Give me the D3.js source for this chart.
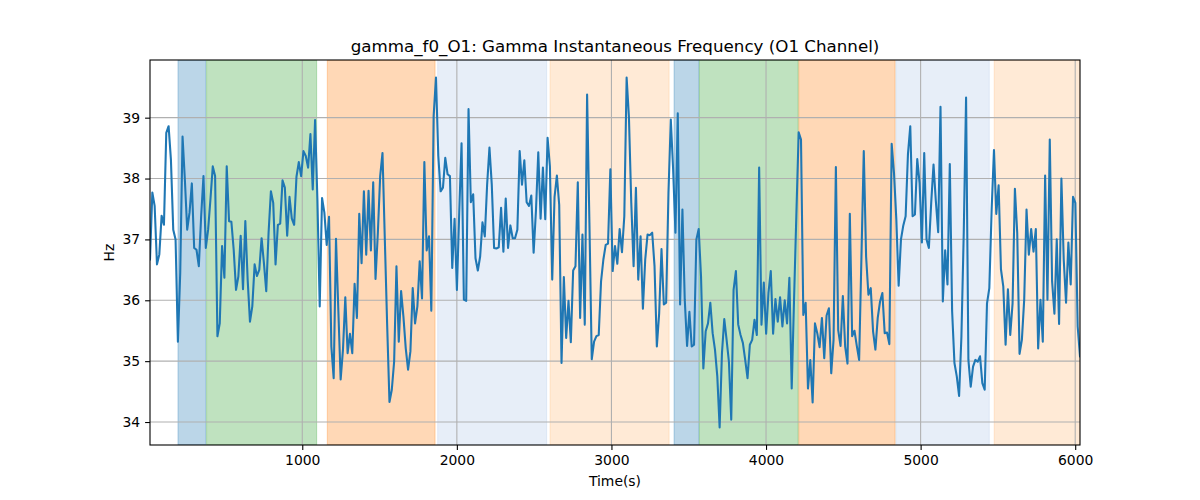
<!DOCTYPE html>
<html>
<head>
<meta charset="utf-8">
<script src="https://cdn.jsdelivr.net/npm/d3@7"></script>
<style>
  body { margin: 0; background: #fff; }
  svg text { font-family: "DejaVu Sans", sans-serif; fill: #000; }
</style>
</head>
<body>
<div id="chart"></div>
<script>
'use strict';

// gamma instantaneous frequency (Hz), one sample every ~15 s
var hz = [
  36.67, 37.77, 37.55, 36.59, 36.75, 37.39, 37.24, 38.75, 38.86, 38.31,
  37.16, 37.00, 35.32, 36.45, 38.69, 37.98, 37.16, 37.44, 37.92, 36.86,
  36.83, 36.56, 37.38, 38.04, 36.86, 37.16, 37.66, 38.20, 38.04, 35.41,
  35.62, 36.89, 36.37, 38.20, 37.30, 37.29, 36.83, 36.17, 36.39, 37.06,
  36.18, 37.30, 36.34, 35.65, 35.90, 36.59, 36.40, 36.50, 37.02, 36.61,
  36.15,
  37.11, 37.79, 37.60, 36.59, 37.24, 37.26, 37.97, 37.85, 37.06, 37.70,
  37.34, 37.24, 38.03, 38.27, 38.04, 38.45, 38.37, 38.18, 38.73, 37.82,
  38.96, 37.66, 35.90, 37.68, 37.44, 36.91, 37.37, 35.24, 34.72, 37.01,
  35.84, 34.70, 35.19, 36.05, 35.13, 35.45, 35.13, 36.27, 35.71, 37.42,
  36.61, 37.79, 36.75, 37.80, 36.82, 37.94, 36.35, 37.11, 38.04, 38.42,
  37.00, 35.60, 34.33, 34.53, 34.99, 36.56, 35.32, 36.15, 35.73, 35.21,
  34.86, 35.16, 36.20, 35.62, 35.90, 36.64, 36.03, 38.27, 36.82, 37.05,
  35.83, 39.03, 39.66, 38.37, 37.79, 37.85, 38.34, 38.07, 38.04, 36.53,
  37.34, 36.17, 37.44, 38.58, 36.01, 35.99, 39.14, 37.61, 37.74, 36.69,
  36.49, 36.72, 37.28, 37.05, 37.90, 38.51, 37.90, 36.86, 36.85, 36.87,
  37.52,
  36.80, 37.67, 36.86, 37.23, 37.02, 37.02, 37.16, 38.45, 37.90,
  38.30, 37.61, 37.55, 37.72, 36.78, 37.47, 38.43, 37.34, 38.18, 37.33,
  38.67, 38.20, 36.34, 37.70, 38.05, 37.57, 34.97, 36.38, 35.38, 35.99,
  35.31, 36.49, 36.56, 37.94, 35.71, 37.08, 35.60, 39.38, 37.27, 35.03,
  35.32, 35.41, 35.43, 36.31, 36.67, 36.91, 36.93, 38.15, 36.48, 36.89,
  36.60,
  37.17, 36.79, 37.38, 39.66, 39.00, 37.60, 36.56, 37.85, 36.34,
  37.05, 35.86, 36.67, 37.08, 37.07, 37.11, 36.56, 35.24, 35.79, 36.84,
  35.93, 35.96, 37.77, 38.97, 38.15, 37.11, 39.07, 35.93, 37.49, 36.01,
  35.25, 35.81, 35.24, 35.27, 37.00, 37.17, 36.39, 34.88, 35.49, 35.62,
  35.96, 35.46, 35.19, 34.75, 33.91, 35.13, 35.69, 35.35, 34.99, 34.04,
  36.17, 36.48,
  35.60, 35.43, 35.30, 35.02, 34.72, 35.27, 35.35, 35.68, 35.43, 38.18,
  35.60, 36.29, 35.45, 36.12, 36.48, 35.45, 36.02, 35.65, 36.05, 35.57,
  36.00, 35.62, 36.37, 34.55, 36.00, 37.40, 38.76, 38.64, 35.76, 35.96,
  34.55, 35.02, 34.32, 35.62, 35.46, 35.23, 35.71, 35.05, 35.75, 35.87,
  34.80, 35.35, 38.19, 35.51, 35.25, 36.07, 35.24, 34.96, 37.42, 35.41,
  35.50, 35.25, 35.02, 36.72, 38.45, 36.72, 36.09, 36.20, 35.49, 35.19,
  35.71, 35.98, 36.12, 35.46, 35.47, 35.28, 38.57, 38.09, 37.33, 36.24,
  37.00, 37.23, 37.38, 38.40, 38.86, 37.38, 37.41, 38.32, 37.93, 36.95,
  38.42, 37.00, 36.86, 37.60, 38.23, 37.63, 37.12, 39.18, 35.98, 36.82,
  36.26, 38.24, 35.82, 34.97, 34.75, 34.43, 35.41, 37.11, 39.33, 35.02,
  34.58, 34.91, 35.02, 34.99, 35.08, 34.64, 34.53, 35.95, 36.20, 37.49,
  38.47, 37.42, 37.89, 36.51, 36.23, 35.27, 36.18, 35.43, 35.95, 37.83,
  37.11, 35.12, 35.35, 36.01, 37.49, 36.75, 37.17, 36.80, 37.17, 35.21,
  36.01, 35.32, 38.05, 36.01, 38.64, 36.31, 35.78, 37.00, 35.61, 38.00,
  36.67, 35.96, 36.95, 36.26, 37.70, 37.60, 35.57, 35.08
];
var t0 = 15, dt = 15.04;   // sampling grid (s)

// shaded state segments: start, end (s) and colour
var segStart = [196, 381, 1162, 1876, 2603, 3405, 3569, 4212, 4840, 5476];
var segEnd   = [375, 1093, 1859, 2581, 3373, 3565, 4208, 4835, 5444, 6031];
var segColor = ['#1f77b4', '#2ca02c', '#ff7f0e', '#aec7e8', '#ffbb78',
                '#1f77b4', '#2ca02c', '#ff7f0e', '#aec7e8', '#ffbb78'];

var xTicks = [1000, 2000, 3000, 4000, 5000, 6000];
var yTicks = [34, 35, 36, 37, 38, 39];

var data = hz.map(function(v, i) { return {t: t0 + i * dt, v: v}; });

var margin = {top: 60, right: 120, bottom: 55, left: 150},
    width  = 1200 - margin.left - margin.right,
    height = 500 - margin.top - margin.bottom;

var x = d3.scaleLinear().range([0, width]);
var y = d3.scaleLinear().range([height, 0]);

x.domain(d3.extent(data, function(d) { return d.t; }));
var ext = d3.extent(data, function(d) { return d.v; });
var pad = (ext[1] - ext[0]) * 0.05;
y.domain([ext[0] - pad, ext[1] + pad]);

var svg = d3.select("#chart").append("svg")
    .attr("width", 1200)
    .attr("height", 500);

var g = svg.append("g")
    .attr("transform", "translate(" + margin.left + "," + margin.top + ")");

// clip to the axes box
g.append("clipPath").attr("id", "clip")
  .append("rect").attr("width", width).attr("height", height);

var plot = g.append("g").attr("clip-path", "url(#clip)");

// shaded segments
plot.selectAll("rect.seg")
  .data(segStart.map(function(s, i) { return {s: s, e: segEnd[i], c: segColor[i]}; }))
  .enter().append("rect")
    .attr("class", "seg")
    .attr("x", function(d) { return x(d.s); })
    .attr("y", 0)
    .attr("width", function(d) { return x(d.e) - x(d.s); })
    .attr("height", height)
    .attr("fill", function(d) { return d.c; })
    .attr("fill-opacity", 0.3)
    .attr("stroke", function(d) { return d.c; })
    .attr("stroke-opacity", 0.3)
    .attr("stroke-width", 1);

// grid
plot.selectAll("line.gx").data(xTicks).enter().append("line")
  .attr("x1", x).attr("x2", x).attr("y1", 0).attr("y2", height)
  .attr("stroke", "#b0b0b0").attr("stroke-width", 1.1);
plot.selectAll("line.gy").data(yTicks).enter().append("line")
  .attr("y1", y).attr("y2", y).attr("x1", 0).attr("x2", width)
  .attr("stroke", "#b0b0b0").attr("stroke-width", 1.1);

// the line
var valueline = d3.line()
    .x(function(d) { return x(d.t); })
    .y(function(d) { return y(d.v); });

plot.append("path")
  .datum(data)
  .attr("fill", "none")
  .attr("stroke", "#1f77b4")
  .attr("stroke-width", 2.08)
  .attr("stroke-linejoin", "round")
  .attr("stroke-linecap", "square")
  .attr("d", valueline);

// axes
var xAxis = g.append("g")
  .attr("transform", "translate(0," + height + ")")
  .call(d3.axisBottom(x).tickValues(xTicks).tickFormat(d3.format("d")).tickSizeOuter(0).tickSize(4.9).tickPadding(4.9));
var yAxis = g.append("g")
  .call(d3.axisLeft(y).tickValues(yTicks).tickFormat(d3.format("d")).tickSizeOuter(0).tickSize(4.9).tickPadding(4.9));

[xAxis, yAxis].forEach(function(a) {
  a.select(".domain").remove();
  a.selectAll(".tick line").attr("stroke", "#000").attr("stroke-width", 1.1);
  a.selectAll("text").style("font-size", "13.9px").attr("fill", "#000");
});

// frame
g.append("rect")
  .attr("width", width).attr("height", height)
  .attr("fill", "none").attr("stroke", "#000").attr("stroke-width", 1.1);

// labels
svg.append("text")
  .attr("x", margin.left + width / 2).attr("y", 52)
  .attr("text-anchor", "middle")
  .style("font-size", "16.7px")
  .text("gamma_f0_O1: Gamma Instantaneous Frequency (O1 Channel)");

svg.append("text")
  .attr("x", margin.left + width / 2).attr("y", 486)
  .attr("text-anchor", "middle")
  .style("font-size", "13.9px")
  .text("Time(s)");

svg.append("text")
  .attr("transform", "translate(114," + (margin.top + height / 2) + ") rotate(-90)")
  .attr("text-anchor", "middle")
  .style("font-size", "13.9px")
  .text("Hz");
</script>
</body>
</html>
